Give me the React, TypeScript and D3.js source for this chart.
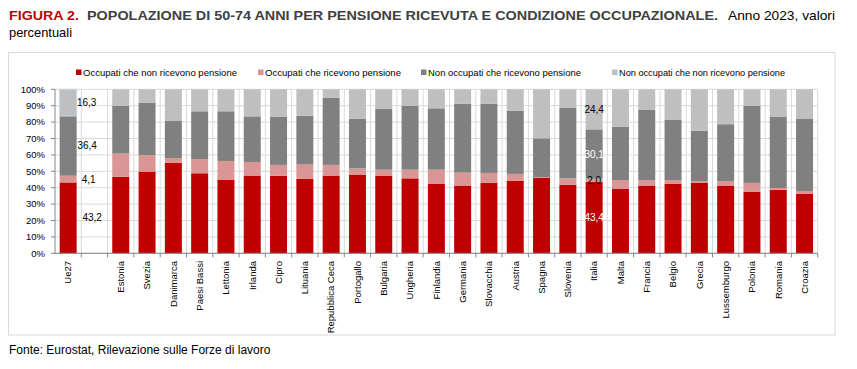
import React from "react";
import * as d3 from "d3";

const categories = ["Ue27", "", "Estonia", "Svezia", "Danimarca", "Paesi Bassi", "Lettonia", "Irlanda", "Cipro", "Lituania", "Repubblica Ceca", "Portogallo", "Bulgaria", "Ungheria", "Finlandia", "Germania", "Slovacchia", "Austria", "Spagna", "Slovenia", "Italia", "Malta", "Francia", "Belgio", "Grecia", "Lussemburgo", "Polonia", "Romania", "Croazia"];

const occNoPens = [43.2, 0, 46.7, 49.8, 55.1, 48.8, 44.7, 47.4, 47.2, 45.5, 47.4, 48.0, 47.4, 45.7, 42.5, 41.3, 42.9, 44.3, 45.9, 41.7, 43.4, 39.2, 41.3, 42.5, 43.1, 41.3, 37.6, 38.8, 36.4];
const occPens = [4.1, 0, 14.1, 10.0, 3.0, 8.7, 11.6, 8.3, 6.7, 8.6, 6.5, 3.8, 3.6, 5.3, 8.5, 7.9, 6.1, 4.1, 0.6, 4.0, 2.0, 5.5, 3.4, 2.2, 1.0, 2.8, 5.3, 1.0, 1.6];
const nonOccPens = [36.4, 0, 29.2, 32.1, 22.6, 29.1, 30.3, 27.8, 29.2, 29.8, 41.0, 30.3, 37.0, 39.0, 37.4, 41.9, 42.1, 38.6, 23.6, 42.9, 30.1, 32.5, 42.7, 36.6, 30.7, 34.6, 47.1, 43.3, 43.9];
const nonOccNoPens = [16.3, 0, 10.0, 8.1, 19.3, 13.4, 13.4, 16.5, 16.9, 16.1, 5.1, 17.9, 12.0, 10.0, 11.6, 8.9, 8.9, 13.0, 29.9, 11.4, 24.4, 22.8, 12.6, 18.7, 25.2, 21.3, 10.0, 16.9, 18.1];

const seriesNames = ["Occupati che non ricevono pensione", "Occupati che ricevono pensione", "Non occupati che ricevono pensione", "Non occupati che non ricevono pensione"];
const seriesColors = ["#C00000", "#DA9694", "#808080", "#BFBFBF"];
const yTicks = [0, 10, 20, 30, 40, 50, 60, 70, 80, 90, 100];

const W = 857;
const H = 369;
const left = 55;
const right = 817.7;
const top = 89.3;
const bottom = 253.3;

export default function App() {
  const keys = ["a", "b", "c", "d"];
  const rows = categories.map((c, i) => ({
    cat: c + "_" + i,
    label: c,
    a: occNoPens[i],
    b: occPens[i],
    c: nonOccPens[i],
    d: nonOccNoPens[i],
  }));
  const valid = rows.filter((r) => r.a + r.b + r.c + r.d > 0);
  const stacked = d3.stack<any>().keys(keys).offset(d3.stackOffsetExpand)(valid);

  const x = d3.scaleBand<string>().domain(rows.map((r) => r.cat)).range([left, right]).padding(0);
  const step = x.bandwidth();
  const barW = step * 0.646;
  const y = d3.scaleLinear().domain([0, 1]).range([bottom, top]);
  const yPct = d3.scaleLinear().domain([0, 100]).range([bottom, top]);

  const font = "'Liberation Sans', Arial, sans-serif";
  const narrow = "'Liberation Sans Narrow', 'Arial Narrow', 'Liberation Sans', Arial, sans-serif";

  // labels for Ue27 (outside, right) and Italia (inside)
  const ueIdx = 0;
  const itIdx = categories.indexOf("Italia");
  const ueRow = rows[ueIdx];
  const itRow = rows[itIdx];
  const ueSeries = [occNoPens[ueIdx], occPens[ueIdx], nonOccPens[ueIdx], nonOccNoPens[ueIdx]];
  const itSeries = [occNoPens[itIdx], occPens[itIdx], nonOccPens[itIdx], nonOccNoPens[itIdx]];
  const ueOffsets = [24, 20.5, 19, 18.5];
  const itColors = ["#FFFFFF", "#000000", "#FFFFFF", "#000000"];
  const fmt = (v: number) => v.toFixed(1).replace(".", ",");

  const cum = (arr: number[], k: number) => arr.slice(0, k).reduce((s, v) => s + v, 0);
  const tot = (arr: number[]) => arr.reduce((s, v) => s + v, 0);

  const legendX = [76, 258, 421, 612];
  const legendW = [154, 136, 153, 166];

  return (
    <svg width={W} height={H} style={{ position: "absolute", left: 0, top: 0, background: "#fff" }} fontFamily={font}>
      {/* Title */}
      <text y={20} fontSize={13} fontFamily={narrow}>
        <tspan x={9} fill="#C00000" fontWeight="bold" textLength={70} lengthAdjust="spacingAndGlyphs">FIGURA 2.</tspan>
      </text>
      <text x={87} y={20} fontSize={13} fontFamily={narrow} fill="#404040" fontWeight="bold" textLength={631} lengthAdjust="spacingAndGlyphs">
        POPOLAZIONE DI 50-74 ANNI PER PENSIONE RICEVUTA E CONDIZIONE OCCUPAZIONALE.
      </text>
      <text x={728} y={20} fontSize={13} fontFamily={narrow} fill="#000" textLength={107} lengthAdjust="spacingAndGlyphs">
        Anno 2023, valori
      </text>
      <text x={9} y={37} fontSize={13} fontFamily={narrow} fill="#000" textLength={63} lengthAdjust="spacingAndGlyphs">
        percentuali
      </text>

      {/* Chart box */}
      <rect x={8.5} y={52.5} width={826.5} height={282.5} fill="#fff" stroke="#D9D9D9" strokeWidth={1} />

      {/* Legend */}
      {seriesNames.map((n, i) => (
        <g key={n}>
          <rect x={legendX[i]} y={69.5} width={5.5} height={5.5} fill={seriesColors[i]} />
          <text x={legendX[i] + 7} y={75.5} fontSize={9.5} fill="#000" textLength={legendW[i]} lengthAdjust="spacingAndGlyphs">
            {n}
          </text>
        </g>
      ))}

      {/* Gridlines */}
      {yTicks.map((t) => (
        <line key={"h" + t} x1={left} x2={right} y1={yPct(t)} y2={yPct(t)} stroke="#D9D9D9" strokeWidth={1} />
      ))}
      {rows.map((r, i) =>
        i === 0 ? null : (
          <line key={"v" + i} x1={x(r.cat)!} x2={x(r.cat)!} y1={top} y2={bottom} stroke="#D9D9D9" strokeWidth={1} />
        )
      )}
      <line x1={right} x2={right} y1={top} y2={bottom} stroke="#D9D9D9" strokeWidth={1} />

      {/* Bars */}
      {stacked.map((s, si) => (
        <g key={s.key} fill={seriesColors[si]}>
          {s.map((d: any) => {
            const cx = x(d.data.cat)! + (step - barW) / 2;
            const isUe = d.data.label === "Ue27" && si === 3;
            return (
              <rect
                key={d.data.cat}
                x={cx}
                y={y(d[1])}
                width={barW}
                height={Math.max(0, y(d[0]) - y(d[1]))}
                stroke={isUe ? "#C5D5EA" : "none"}
                strokeWidth={isUe ? 1 : 0}
              />
            );
          })}
        </g>
      ))}

      {/* Axes */}
      <line x1={left} x2={left} y1={top} y2={bottom} stroke="#868686" strokeWidth={1} />
      {yTicks.map((t) => (
        <g key={"yt" + t}>
          <line x1={left - 4} x2={left} y1={yPct(t)} y2={yPct(t)} stroke="#868686" />
          <text x={45} y={yPct(t)} dy="0.35em" textAnchor="end" fontSize={9.5} fill="#000">
            {t}%
          </text>
        </g>
      ))}
      <line x1={left} x2={right} y1={bottom} y2={bottom} stroke="#868686" strokeWidth={1} />
      {rows.map((r, i) => (
        <line key={"xt" + i} x1={x(r.cat)! + step} x2={x(r.cat)! + step} y1={bottom} y2={bottom + 4} stroke="#868686" />
      ))}
      {rows.map((r) =>
        r.label ? (
          <text
            key={"xl" + r.cat}
            transform={`translate(${x(r.cat)! + step / 2},${261}) rotate(-90)`}
            textAnchor="end"
            dy="0.35em"
            fontSize={9.5}
            fill="#000"
          >
            {r.label}
          </text>
        ) : null
      )}

      {/* Data labels Ue27 */}
      {ueSeries.map((v, k) => {
        const mid = (cum(ueSeries, k) + v / 2) / tot(ueSeries);
        return (
          <text key={"ue" + k} x={x(ueRow.cat)! + step / 2 + ueOffsets[k]} y={y(mid)} dy="0.35em" textAnchor="middle" fontSize={10} fill="#000">
            {fmt(v)}
          </text>
        );
      })}
      {/* Data labels Italia */}
      {itSeries.map((v, k) => {
        const mid = (cum(itSeries, k) + v / 2) / tot(itSeries);
        return (
          <text key={"it" + k} x={x(itRow.cat)! + step / 2} y={y(mid)} dy="0.35em" textAnchor="middle" fontSize={10} fill={itColors[k]}>
            {fmt(v)}
          </text>
        );
      })}

      {/* Source */}
      <text x={9} y={354} fontSize={12} fill="#000">
        Fonte: Eurostat, Rilevazione sulle Forze di lavoro
      </text>
    </svg>
  );
}
